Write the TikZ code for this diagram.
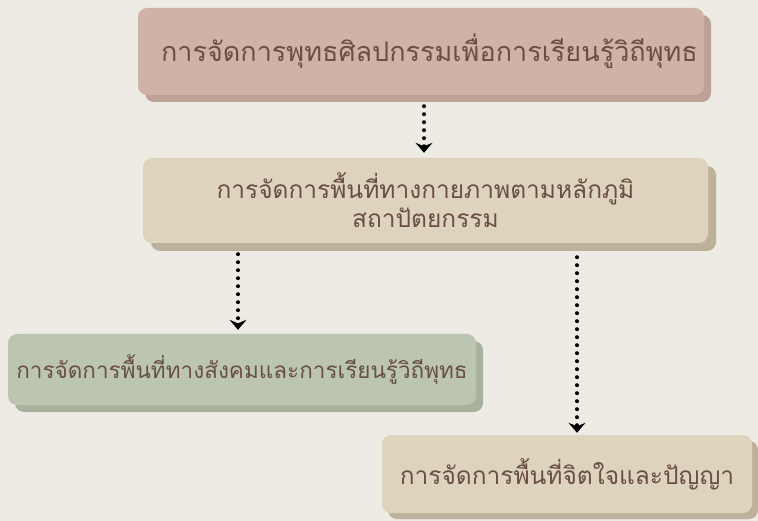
\documentclass[tikz,border=0pt]{standalone}
\usepackage{fontspec}
\newfontfamily\thaifont[Script=Thai]{Loma}
\usetikzlibrary{arrows.meta,shadows}
\definecolor{paper}{HTML}{EEEBE4}
\definecolor{rose}{HTML}{D0B3A6}
\definecolor{roseshade}{HTML}{BEA195}
\definecolor{sand}{HTML}{DED3BD}
\definecolor{sandshade}{HTML}{BDB19B}
\definecolor{sage}{HTML}{BBC5B2}
\definecolor{sageshade}{HTML}{A7B19D}
\definecolor{ink}{HTML}{694F45}

\begin{document}
\begin{tikzpicture}[x=1pt,y=-1pt]

\tikzset{box/.style = {rounded corners=9pt, text=ink, align=center, inner sep=0pt}}
\tikzset{arc/.style = {->,>={Stealth[length=10pt,width=17pt,inset=3.5pt]},
    line width=4pt, dash pattern=on 0pt off 8pt, line cap=round}}

% background
\fill[paper] (0,0) rectangle (758,521);

% boxes
\node[box, fill=rose, minimum width=566pt, minimum height=87pt,
  font=\thaifont\fontsize{27}{32}\selectfont,
  general shadow={fill=roseshade, shadow xshift=7pt, shadow yshift=-7pt}]
  (art) at (421,51.5) {\hspace*{17pt}การจัดการพุทธศิลปกรรมเพื่อการเรียนรู้วิถีพุทธ};
\node[box, fill=sand, minimum width=565pt, minimum height=85pt,
  font=\thaifont\fontsize{24.5}{29}\selectfont,
  general shadow={fill=sandshade, shadow xshift=8pt, shadow yshift=-8pt}]
  (phys) at (425.5,200.5) {การจัดการพื้นที่ทางกายภาพตามหลักภูมิ\\สถาปัตยกรรม};
\node[box, fill=sage, minimum width=468pt, minimum height=71pt,
  font=\thaifont\fontsize{22.5}{27}\selectfont,
  general shadow={fill=sageshade, shadow xshift=7pt, shadow yshift=-7pt}]
  (social) at (242,369.5) {การจัดการพื้นที่ทางสังคมและการเรียนรู้วิถีพุทธ};
\node[box, fill=sand, minimum width=370pt, minimum height=78pt,
  font=\thaifont\fontsize{24.5}{29}\selectfont,
  general shadow={fill=sandshade, shadow xshift=6pt, shadow yshift=-6pt}]
  (mind) at (567,474) {\raisebox{5pt}{การจัดการพื้นที่จิตใจและปัญญา}};

% arcs
\draw[arc] ([shift={(3,11)}]art.south) -- ([shift={(-1.5,-5)}]phys.north);
\draw[arc] ([shift={(-4,11)}]social.north |- phys.south) -- ([shift={(-4,-4)}]social.north);
\draw[arc] ([shift={(10,14)}]mind.north |- phys.south) -- ([shift={(10,-2)}]mind.north);

\end{tikzpicture}
\end{document}
